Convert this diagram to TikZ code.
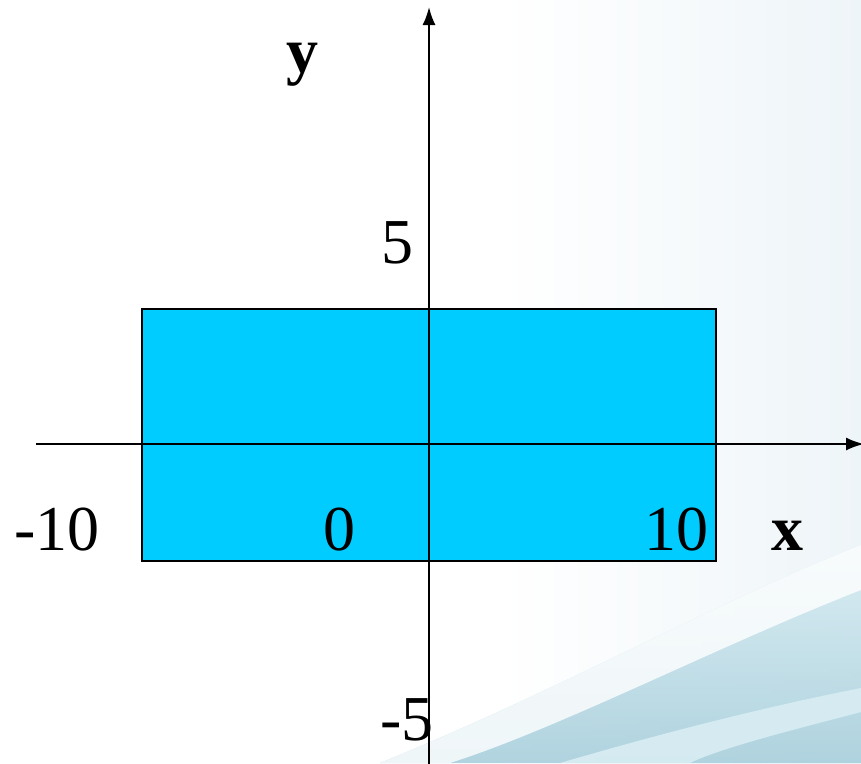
\documentclass[tikz,border=0pt]{standalone}
\usepackage{fontspec}
\setmainfont{Liberation Serif}
\usepackage{tikz}
\usepackage{xcolor}
\usetikzlibrary{arrows.meta}

\definecolor{boxblue}{HTML}{00CCFF}
\definecolor{bgtint}{HTML}{EEF5F8}
\definecolor{swoosh}{HTML}{A8CFDC}
\definecolor{swooshlight}{HTML}{D9EDF3}

\tikzset{
  axis/.style={line width=2pt,-{Latex[length=18pt,width=13pt]}},
  lbl/.style={anchor=base,inner sep=0pt,font=\fontsize{64}{70}\selectfont},
  lblbold/.style={lbl,font=\fontsize{64}{70}\selectfont\bfseries}
}

\begin{document}
\begin{tikzpicture}[x=1pt,y=-1pt]
\useasboundingbox (0,0) rectangle (861,763);

% background
\fill[white] (0,0) rectangle (861,763);
\shade[left color=white,right color=bgtint] (500,0) rectangle (861,763);
\shade[top color=swooshlight,bottom color=swoosh,opacity=0.9]
  (380,763) .. controls (560,690) and (720,600) .. (861,545) -- (861,763) -- cycle;
\fill[white,opacity=0.8] (380,763) .. controls (560,690) and (720,600) .. (861,545)
  -- (861,590) .. controls (720,645) and (560,728) .. (450,763) -- cycle;
\fill[swooshlight,opacity=0.9] (560,763) .. controls (700,722) and (800,700) .. (861,688)
  -- (861,712) .. controls (800,728) and (720,748) .. (690,763) -- cycle;

% box
\draw[fill=boxblue,line width=2pt] (142,309) rectangle (716,561);

% axes
\coordinate (xl) at (36,444);
\coordinate (xr) at (864,444);
\coordinate (yb) at (429,770);
\coordinate (yt) at (429,7);
\draw[axis] (xl) -- (xr);
\draw[axis] (yb) -- (yt);

% Labels
\node[lblbold] (ylab) at (302,72) {y};
\node[lblbold] (xlab) at (787,550) {x};
\node[lbl] (yfive) at (397,263) {5};
\node[lbl] (ymfive) at (407,740) {-5};
\node[lbl] (xmten) at (57,550) {-10};
\node[lbl] (xzero) at (339,550) {0};
\node[lbl] (xten) at (676,550) {10};
\end{tikzpicture}
\end{document}
